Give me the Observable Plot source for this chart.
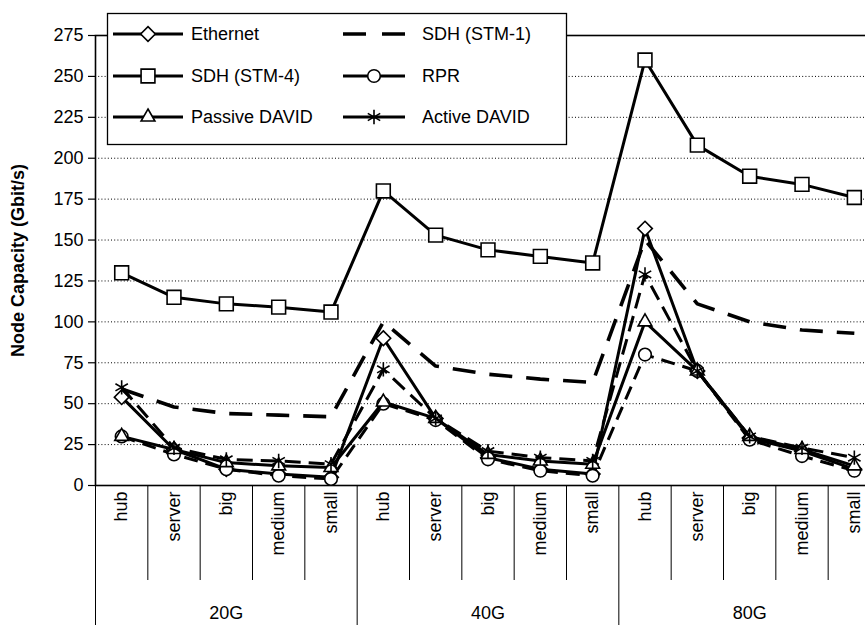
<!DOCTYPE html>
<html><head><meta charset="utf-8">
<script src="https://cdn.jsdelivr.net/npm/d3@7"></script>
<script src="https://cdn.jsdelivr.net/npm/@observablehq/plot@0.6"></script>
<style>
body{margin:0;background:#fff;}
#chart{position:relative;width:865px;height:625px;overflow:hidden;background:#fff;}
</style></head><body><div id="chart"></div>
<script>
// ---- data ----
const groups = ["20G", "40G", "80G"];
const categories = ["hub", "server", "big", "medium", "small"];
const yTicks = [0, 25, 50, 75, 100, 125, 150, 175, 200, 225, 250, 275];
const yLabel = "Node Capacity (Gbit/s)";

const ethernet = [54, 22, 10, 7, 5,   90, 41, 17, 10, 7,   157, 70, 29, 21, 10];
const stm1     = [59, 48, 44, 43, 42, 100, 73, 68, 65, 63, 150, 111, 100, 95, 93];
const stm4     = [130, 115, 111, 109, 106, 180, 153, 144, 140, 136, 260, 208, 189, 184, 176];
const rpr      = [30, 19, 10, 6, 4,   50, 40, 16, 9, 6,    80, 70, 28, 18, 9];
const passive  = [30, 22, 14, 12, 11, 51, 41, 19, 15, 13,  100, 70, 30, 22, 12];
const active   = [60, 23, 16, 15, 13, 71, 41, 21, 17, 15,  129, 70, 30, 23, 17];

const seriesNames = ["Ethernet", "SDH (STM-1)", "SDH (STM-4)", "RPR", "Passive DAVID", "Active DAVID"];

// ---- build tables ----
const slots = [];
groups.forEach((g, gi) => categories.forEach((c, ci) => slots.push({i: gi * categories.length + ci, g, c})));
const toRows = (vals) => vals.map((v, i) => ({i, v}));

const styles = {
  "Ethernet":      {vals: ethernet, dash: null,    width: 3,   symbol: "diamond2", r: 6.6},
  "SDH (STM-1)":   {vals: stm1,     dash: "23,14", width: 3.6, symbol: null},
  "SDH (STM-4)":   {vals: stm4,     dash: null,    width: 3,   symbol: "square2", r: 8.8},
  "RPR":           {vals: rpr,      dash: "14,8",  width: 3,   symbol: "circle", r: 6.3},
  "Passive DAVID": {vals: passive,  dash: null,    width: 3,   symbol: "triangle2", r: 6.6},
  "Active DAVID":  {vals: active,   dash: "16,8",  width: 3,   symbol: "asterisk", r: 6.8}
};

const n = slots.length;
const catSeps = d3.range(1, n).filter(k => k % categories.length !== 0).map(k => k - 0.5);
const groupSeps = d3.range(0, n + 1, categories.length).map(k => k - 0.5);
const groupCenters = groups.map((g, gi) => gi * categories.length + (categories.length - 1) / 2);

const FONT = "'Liberation Sans', Arial, sans-serif";

const marks = [
  Plot.gridY(yTicks.filter(t => t > 0 && t < 275), {stroke: "black", strokeOpacity: 1, strokeWidth: 1, strokeDasharray: "1,2.2"}),
  Plot.frame({stroke: "black", strokeWidth: 1.6}),
  Plot.axisY(yTicks, {tickSize: 7, tickPadding: 5, label: null, tickFormat: d => d, strokeWidth: 1.2}),
  Plot.axisX(catSeps, {tickSize: 95, tickFormat: () => "", label: null}),
  Plot.axisX(groupSeps, {tickSize: 140, tickFormat: () => "", label: null}),
  Plot.axisX(slots.map(s => s.i), {tickSize: 0, tickPadding: 6, tickRotate: -90, tickFormat: i => slots[i].c, label: null}),
  Plot.axisX(groupCenters, {tickSize: 0, tickPadding: 121, tickFormat: (d, k) => groups[k], label: null}),
  Plot.text([yLabel], {frameAnchor: "left", textAnchor: "middle", rotate: -90, dx: -77, fontWeight: "bold", fontSize: 18})
];

for (const name of seriesNames) {
  const s = styles[name];
  const rows = toRows(s.vals);
  marks.push(Plot.line(rows, {x: "i", y: "v", stroke: "black", strokeWidth: s.width, strokeDasharray: s.dash, strokeLinejoin: "miter", strokeLinecap: "butt"}));
  if (s.symbol) marks.push(Plot.dot(rows, {x: "i", y: "v", symbol: s.symbol, r: s.r, fill: "white", stroke: "black", strokeWidth: 1.6}));
}

const chart = Plot.plot({
  width: 865, height: 625,
  marginLeft: 95, marginRight: -15, marginTop: 35, marginBottom: 140,
  style: {fontFamily: FONT, fontSize: "18px", color: "black", background: "white"},
  x: {type: "linear", domain: [-0.5, n - 0.5]},
  y: {domain: [0, 275]},
  marks
});
document.getElementById("chart").appendChild(chart);

// ---- legend (drawn on top of the plot) ----
const svg = d3.select(chart);
const lg = svg.append("g").attr("font-family", FONT).attr("font-size", 18).attr("text-anchor", "start");
lg.append("rect").attr("x", 107.5).attr("y", 13.5).attr("width", 459).attr("height", 131)
  .attr("fill", "white").attr("stroke", "black").attr("stroke-width", 1.3);
const symMap = {diamond2: d3.symbolDiamond2, square2: d3.symbolSquare2, circle: d3.symbolCircle, triangle2: d3.symbolTriangle2, asterisk: d3.symbolAsterisk};
const colX = [{x1: 113, x2: 183, text: 191}, {x1: 343, x2: 405, text: 422}];
const rowY = [34, 76, 117];
seriesNames.forEach((name, k) => {
  const s = styles[name];
  const col = colX[k % 2], y = rowY[Math.floor(k / 2)];
  const g = lg.append("g");
  g.append("line").attr("x1", col.x1).attr("x2", col.x2).attr("y1", y).attr("y2", y)
    .attr("stroke", "black").attr("stroke-width", s.width)
    .attr("stroke-dasharray", name === "SDH (STM-1)" ? "23,16" : null);
  if (s.symbol) {
    g.append("path").attr("transform", `translate(${(col.x1 + col.x2) / 2},${y})`)
      .attr("d", d3.symbol(symMap[s.symbol], Math.PI * s.r * s.r)())
      .attr("fill", "white").attr("stroke", "black").attr("stroke-width", 1.6);
  }
  g.append("text").attr("x", col.text).attr("y", y).attr("dy", "0.35em").attr("text-anchor", "start").text(name);
});
</script>
</body></html>
